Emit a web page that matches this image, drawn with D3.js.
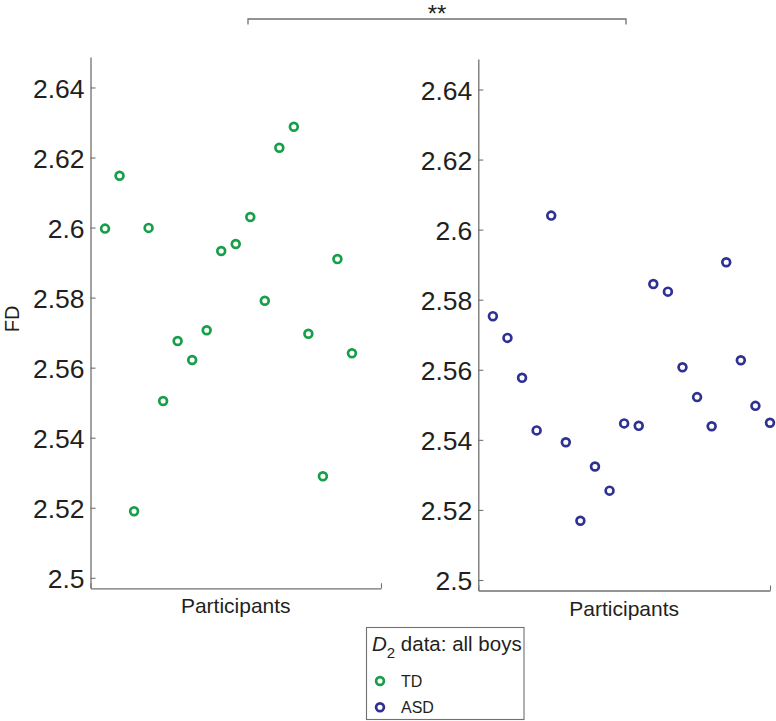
<!DOCTYPE html>
<html>
<head>
<meta charset="utf-8">
<script src="https://cdn.jsdelivr.net/npm/d3@7"></script>
<style>
  html, body { margin: 0; padding: 0; background: #fff; }
  svg { display: block; font-family: "Liberation Sans", Arial, Helvetica, sans-serif; }
</style>
</head>
<body>
<svg id="chart" width="776" height="721"></svg>
<script>
// ---- data ----
const tdParticipants = [1, 2, 3, 4, 5, 6, 7, 8, 9, 10, 11, 12, 13, 14, 15, 16, 17, 18];
const tdValues = [2.5997, 2.6148, 2.5190, 2.5999, 2.5505, 2.5676, 2.5622, 2.5707, 2.5933,
                  2.5953, 2.6030, 2.5791, 2.6228, 2.6288, 2.5697, 2.5290, 2.5910, 2.5641];
const asdParticipants = [1, 2, 3, 4, 5, 6, 7, 8, 9, 10, 11, 12, 13, 14, 15, 16, 17, 18, 19, 20];
const asdValues = [2.5753, 2.5691, 2.5577, 2.5427, 2.6040, 2.5393, 2.5169, 2.5324, 2.5255, 2.5447,
                   2.5440, 2.5845, 2.5823, 2.5607, 2.5522, 2.5439, 2.5907, 2.5627, 2.5497, 2.5449];
const yTickValues = [2.5, 2.52, 2.54, 2.56, 2.58, 2.6, 2.62, 2.64];
const yTickLabels = ["2.5", "2.52", "2.54", "2.56", "2.58", "2.6", "2.62", "2.64"];
const xDomain = [0, 20];
const yDomain = [2.497, 2.6487];
const groupNames = ["TD", "ASD"];
const groupColors = ["#179e48", "#2e3192"];
const xLabel = "Participants";
const yLabel = "FD";
const sigLabel = "**";
const legendTitle = { italic: "D", sub: "2", rest: " data: all boys" };

// ---- drawing ----
const svg = d3.select("#chart");
const axisColor = "#707070";
const textColor = "#231f20";

function panel(tx, ty, w, h, xs, ys, color) {
  const g = svg.append("g").attr("transform", `translate(${tx},${ty})`);
  const x = d3.scaleLinear().domain(xDomain).range([0, w]);
  const y = d3.scaleLinear().domain(yDomain).range([h, 0]);

  const ya = g.append("g").call(
    d3.axisLeft(y).tickValues(yTickValues)
      .tickFormat((d, i) => yTickLabels[i])
      .tickSize(-5).tickSizeOuter(0).tickPadding(6)
  );
  const xa = g.append("g").attr("transform", `translate(0,${h})`).call(
    d3.axisBottom(x).tickValues(xDomain).tickFormat("")
      .tickSize(-5).tickSizeOuter(0)
  );
  [ya, xa].forEach(a => {
    a.select(".domain").attr("stroke", axisColor).attr("stroke-width", 1.3);
    a.selectAll(".tick line").attr("stroke", axisColor).attr("stroke-width", 1.1);
  });
  ya.selectAll(".tick text")
    .attr("fill", textColor)
    .style("font-size", "26.5px")
    .attr("dy", "0.36em");

  g.append("g").selectAll("circle")
    .data(ys)
    .join("circle")
    .attr("cx", (d, i) => x(xs[i]))
    .attr("cy", d => y(d))
    .attr("r", 3.9)
    .attr("fill", "none")
    .attr("stroke", color)
    .attr("stroke-width", 2.7);

  g.append("text")
    .attr("x", w / 2)
    .attr("y", h + 25)
    .attr("text-anchor", "middle")
    .attr("fill", textColor)
    .style("font-size", "21px")
    .text(xLabel);
  return g;
}

panel(90.5, 57, 290.5, 531.3, tdParticipants, tdValues, groupColors[0]);
panel(478.3, 59, 291.7, 531.5, asdParticipants, asdValues, groupColors[1]);

// y label
svg.append("text")
  .attr("transform", "translate(19,319) rotate(-90)")
  .attr("text-anchor", "middle")
  .attr("fill", textColor)
  .style("font-size", "20px")
  .text(yLabel);

// significance bracket
svg.append("path")
  .attr("d", "M248,24.5V19H626V24.5")
  .attr("fill", "none")
  .attr("stroke", axisColor)
  .attr("stroke-width", 1.3);
svg.append("text")
  .attr("x", 437)
  .attr("y", 22)
  .attr("text-anchor", "middle")
  .attr("fill", textColor)
  .style("font-size", "24px")
  .text(sigLabel);

// legend
const lg = svg.append("g");
lg.append("rect")
  .attr("x", 366.5).attr("y", 627.5)
  .attr("width", 157.5).attr("height", 92)
  .attr("fill", "#fff")
  .attr("stroke", axisColor)
  .attr("stroke-width", 1.1);
const title = lg.append("text")
  .attr("x", 372).attr("y", 651)
  .attr("fill", textColor)
  .style("font-size", "20.5px");
title.append("tspan").style("font-style", "italic").text(legendTitle.italic);
title.append("tspan").attr("dy", 7).style("font-size", "15px").text(legendTitle.sub);
title.append("tspan").attr("dy", -7).text(legendTitle.rest);

const itemY = [681, 707.3];
groupNames.forEach((name, i) => {
  lg.append("circle")
    .attr("cx", 380).attr("cy", itemY[i]).attr("r", 3.9)
    .attr("fill", "none").attr("stroke", groupColors[i]).attr("stroke-width", 2.7);
  lg.append("text")
    .attr("x", 401).attr("y", itemY[i] + 5.8)
    .attr("fill", textColor)
    .style("font-size", "16px")
    .text(name);
});
</script>
</body>
</html>
